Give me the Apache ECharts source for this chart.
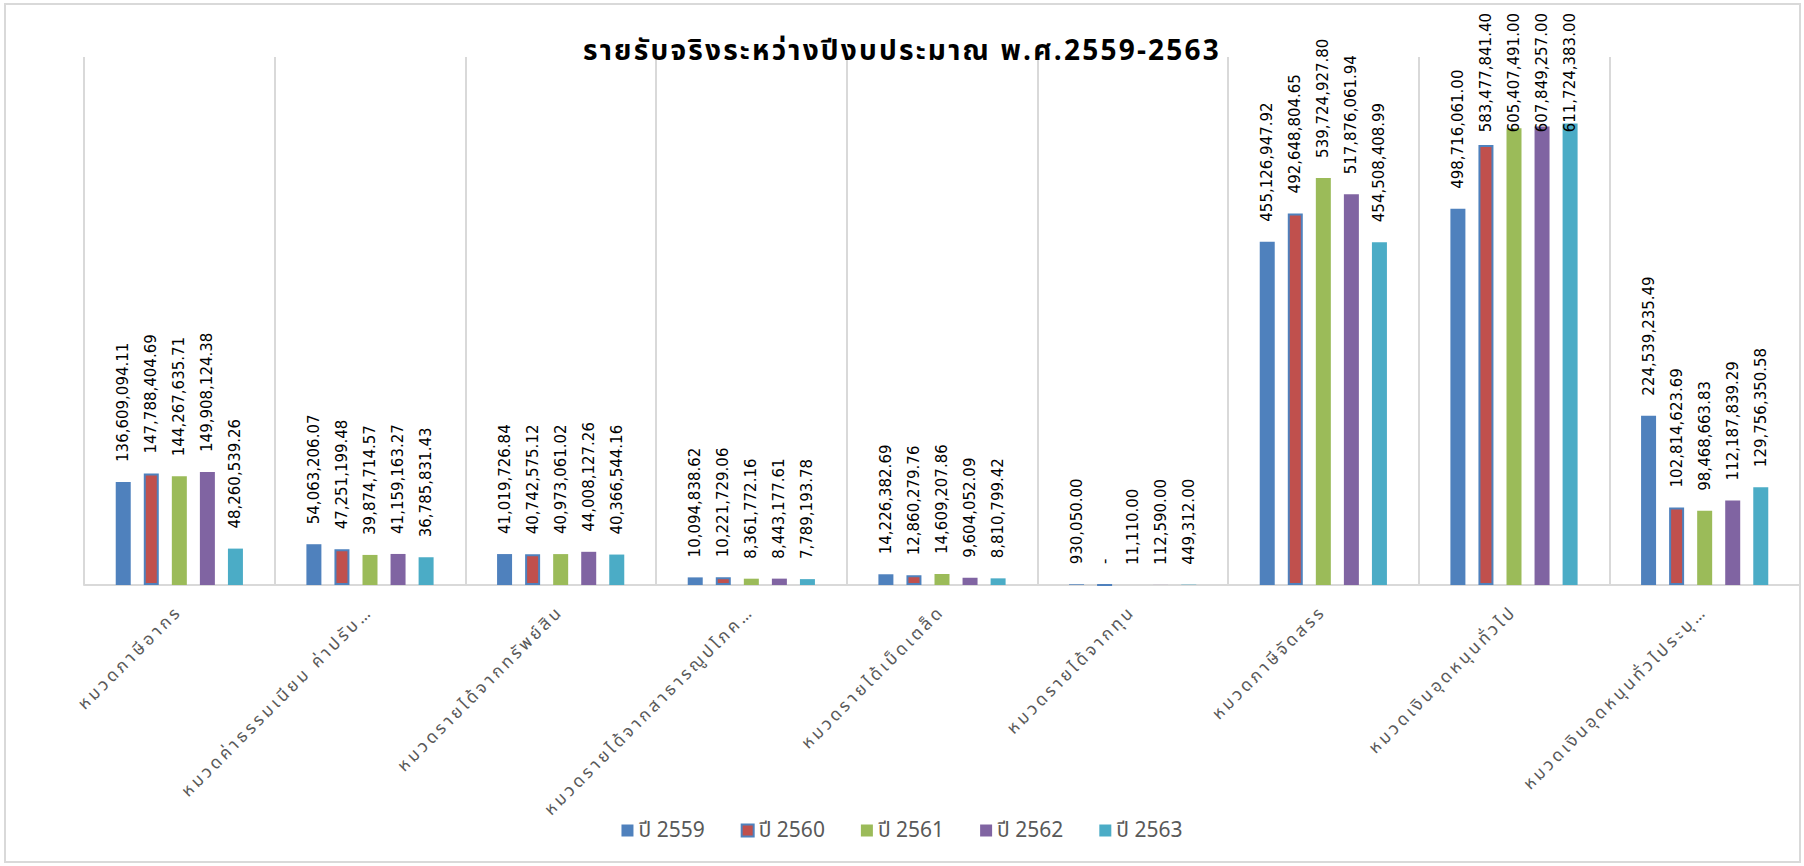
<!DOCTYPE html>
<html>
<head>
<meta charset="utf-8">
<script src="https://cdn.jsdelivr.net/npm/echarts@6/dist/echarts.min.js"></script>
<style>
html,body{margin:0;padding:0;background:#fff;}
#chart{width:1804px;height:866px;}
#chart svg text[style*="17px"], #chart svg text[font-size="17"], #chart svg text[font-size="17px"] { letter-spacing: 3.3px; }
#chart svg text[style*="28px"], #chart svg text[font-size="28"], #chart svg text[font-size="28px"] { letter-spacing: 2.2px; }
</style>
</head>
<body>
<div id="chart"></div>
<script>
const titleText = 'รายรับจริงระหว่างปีงบประมาณ พ.ศ.2559-2563';
const categories = [
  'หมวดภาษีอากร',
  'หมวดค่าธรรมเนียม ค่าปรับ…',
  'หมวดรายได้จากทรัพย์สิน',
  'หมวดรายได้จากสาธารณูปโภค…',
  'หมวดรายได้เบ็ดเตล็ด',
  'หมวดรายได้จากทุน',
  'หมวดภาษีจัดสรร',
  'หมวดเงินอุดหนุนทั่วไป',
  'หมวดเงินอุดหนุนทั่วไประบุ…'
];
const seriesNames = ['ปี 2559', 'ปี 2560', 'ปี 2561', 'ปี 2562', 'ปี 2563'];
const y2559 = [136609094.11, 54063206.07, 41019726.84, 10094838.62, 14226382.69, 930050.00, 455126947.92, 498716061.00, 224539235.49];
const y2560 = [147788404.69, 47251199.48, 40742575.12, 10221729.06, 12860279.76, 0, 492648804.65, 583477841.40, 102814623.69];
const y2561 = [144267635.71, 39874714.57, 40973061.02, 8361772.16, 14609207.86, 11110.00, 539724927.80, 605407491.00, 98468663.83];
const y2562 = [149908124.38, 41159163.27, 44008127.26, 8443177.61, 9604052.09, 112590.00, 517876061.94, 607849257.00, 112187839.29];
const y2563 = [48260539.26, 36785831.43, 40366544.16, 7789193.78, 8810799.42, 449312.00, 454508408.99, 611724383.00, 129756350.58];
const seriesData = [y2559, y2560, y2561, y2562, y2563];
const colors = ['#4F81BD', '#C0504D', '#9BBB59', '#8064A2', '#4BACC6'];

const chart = echarts.init(document.getElementById('chart'), null, {renderer: 'svg'});
const labelFont = 'DejaVu Sans, sans-serif';
const thaiFont = '"Noto Sans Thai", "Noto Sans", "DejaVu Sans", sans-serif';

function fmt(v) {
  if (v === 0) return '-';
  return v.toLocaleString('en-US', {minimumFractionDigits: 2, maximumFractionDigits: 2});
}

const LABEL_TOP_LIMIT = 13;
const LABEL_DIST = 20;

const series = seriesNames.map((name, i) => ({
  name: name,
  type: 'bar',
  data: seriesData[i],
  barWidth: 15,
  barGap: '87%',
  itemStyle: i === 1 ? {color: colors[i], borderColor: '#4F81BD', borderWidth: 2} : {color: colors[i]},
  label: {
    show: true,
    position: 'top',
    distance: LABEL_DIST,
    rotate: 90,
    align: 'left',
    verticalAlign: 'middle',
    fontFamily: labelFont,
    fontSize: 15,
    color: '#000',
    formatter: p => fmt(p.value)
  },
  labelLayout: function (params) {
    const lr = params.labelRect;
    if (lr && lr.y < LABEL_TOP_LIMIT) {
      const anchorY = params.rect.y - LABEL_DIST;
      return {y: anchorY + (LABEL_TOP_LIMIT - lr.y)};
    }
    return {};
  }
}));

chart.setOption({
  backgroundColor: '#fff',
  animation: false,
  color: colors,
  title: {
    text: titleText,
    left: 'center',
    top: 32,
    textStyle: {fontFamily: thaiFont, fontSize: 28, fontWeight: 'bold', color: '#000'}
  },
  legend: {
    data: seriesNames.map((n, i) => i === 1 ? {name: n, itemStyle: {borderColor: '#4F81BD', borderWidth: 2}} : {name: n}),
    left: 'center',
    top: 815,
    icon: 'rect',
    itemWidth: 12,
    itemHeight: 12,
    itemGap: 36,
    textStyle: {fontFamily: thaiFont, fontSize: 21, color: '#595959'}
  },
  grid: {left: 84, right: 4, top: 57, bottom: 281, containLabel: false},
  xAxis: {
    type: 'category',
    data: categories,
    axisLine: {show: true, lineStyle: {color: '#D9D9D9', width: 2}},
    axisTick: {show: false},
    splitLine: {show: true, lineStyle: {color: '#D9D9D9', width: 2}},
    axisLabel: {
      interval: 0,
      rotate: 45,
      margin: 24,
      fontFamily: thaiFont,
      fontSize: 17,
      color: '#595959'
    }
  },
  yAxis: {
    type: 'value',
    min: 0,
    max: 700000000,
    interval: 100000000,
    show: false,
    splitLine: {show: false}
  },
  graphic: [{
    type: 'rect',
    shape: {x: 5, y: 4, width: 1795, height: 858},
    style: {fill: 'none', stroke: '#D9D9D9', lineWidth: 2},
    silent: true,
    z: -1
  }],
  series: series
});
</script>
</body>
</html>
